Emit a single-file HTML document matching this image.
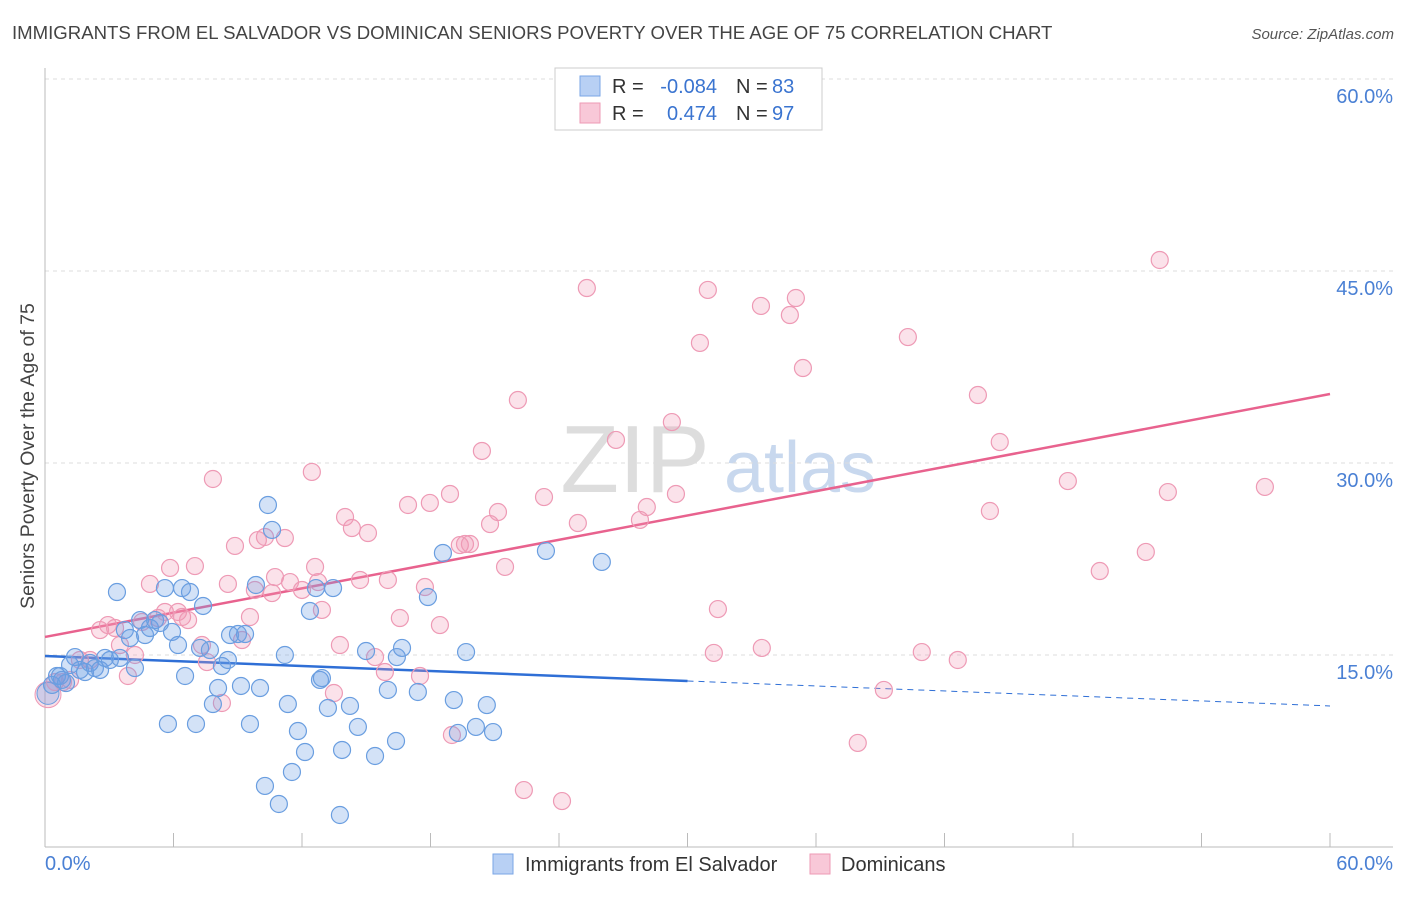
<!DOCTYPE html>
<html><head><meta charset="utf-8"><style>
body{margin:0;background:#fff;font-family:"Liberation Sans",sans-serif}
svg text{font-family:"Liberation Sans",sans-serif}
</style></head><body>
<svg id="chart" width="1406" height="892">
<text x="12" y="39" font-size="18.6" fill="#444">IMMIGRANTS FROM EL SALVADOR VS DOMINICAN SENIORS POVERTY OVER THE AGE OF 75 CORRELATION CHART</text>
<text x="1394" y="39" font-size="15" fill="#555" font-style="italic" text-anchor="end">Source: ZipAtlas.com</text>
<text transform="translate(34,456) rotate(-90)" font-size="19.5" fill="#444" text-anchor="middle">Seniors Poverty Over the Age of 75</text>
<g><text x="635" y="492" font-size="96" fill="#ddd" font-family="Liberation Serif" text-anchor="middle">ZIP</text><text x="800" y="492" font-size="72" fill="#c8d8ee" text-anchor="middle">atlas</text></g>
<g id="grid"></g><g id="trends"></g><g id="pts"></g>
<g>
<rect x="555" y="68" width="267" height="62" fill="#fff" stroke="#ccc"/>
<rect x="580" y="76" width="20" height="20" fill="#b8d0f4" stroke="#7aa6e6"/>
<rect x="580" y="103" width="20" height="20" fill="#f8c8d8" stroke="#ee9ab5"/>
<text x="612" y="93" font-size="20" fill="#333">R =</text>
<text x="717" y="93" font-size="20" fill="#3a74d0" text-anchor="end">-0.084</text>
<text x="736" y="93" font-size="20" fill="#333">N =</text>
<text x="772" y="93" font-size="20" fill="#3a74d0">83</text>
<text x="612" y="120" font-size="20" fill="#333">R =</text>
<text x="717" y="120" font-size="20" fill="#3a74d0" text-anchor="end">0.474</text>
<text x="736" y="120" font-size="20" fill="#333">N =</text>
<text x="772" y="120" font-size="20" fill="#3a74d0">97</text>
</g>
<g>
<rect x="493" y="854" width="20" height="20" fill="#b8d0f4" stroke="#7aa6e6"/>
<text x="525" y="871" font-size="20" fill="#333">Immigrants from El Salvador</text>
<rect x="810" y="854" width="20" height="20" fill="#f8c8d8" stroke="#ee9ab5"/>
<text x="841" y="871" font-size="20" fill="#333">Dominicans</text>
</g>
</svg>
<script>
const yTicks=[15,30,45,60];
const xTickLabels=["0.0%","60.0%"];
const blueX=[0.56,0.79,1.17,1.40,1.63,1.87,2.10,2.33,2.57,2.80,3.03,3.36,3.50,3.73,3.97,4.20,4.44,4.67,4.90,5.14,5.37,5.60,5.74,5.93,6.21,6.40,6.54,6.77,7.05,7.24,7.38,7.70,7.84,8.08,8.26,8.54,8.64,9.01,9.15,9.34,9.57,9.85,10.04,10.27,10.41,10.60,10.92,11.20,11.34,11.53,11.81,12.14,12.37,12.65,12.84,12.93,13.21,13.45,13.77,13.87,14.24,14.61,14.99,15.41,16.01,16.39,16.43,16.67,17.41,17.88,18.58,19.09,19.28,19.66,20.12,20.63,20.92,23.39,26.00,0.33,0.70,0.98];
const blueY=[13.36,13.05,14.22,14.84,13.83,13.67,14.38,13.98,13.83,14.77,14.61,19.92,14.77,16.95,16.33,13.98,17.73,16.56,17.11,17.73,17.50,20.23,9.61,16.80,15.78,20.23,13.36,19.92,9.61,15.55,18.83,15.39,11.17,12.42,14.14,14.61,16.56,16.64,12.58,16.64,9.61,20.47,12.42,4.77,26.72,24.77,3.36,15.00,11.17,5.86,9.06,7.42,18.44,20.23,13.05,13.20,10.86,20.23,2.50,7.58,11.02,9.38,15.31,7.11,12.27,8.28,14.84,15.55,12.11,19.53,22.97,11.48,8.91,15.23,9.38,11.09,8.98,23.13,22.27,12.66,13.36,12.81];
const pinkX=[0.47,0.84,1.17,1.63,2.10,2.57,2.94,3.27,3.50,3.87,4.20,4.53,4.90,5.28,5.60,5.84,6.21,6.40,6.68,7.00,7.33,7.56,7.84,8.26,8.54,8.87,9.20,9.57,9.80,9.94,10.27,10.60,10.74,11.20,11.44,12.00,12.46,12.61,12.75,12.93,13.49,13.77,14.01,14.33,14.71,15.08,15.41,15.87,16.01,16.57,16.95,17.51,17.74,17.97,18.44,18.91,19.00,19.37,19.61,19.84,20.40,20.78,21.15,21.48,22.08,22.36,23.30,24.14,24.88,25.30,26.66,27.78,28.10,29.27,29.46,30.58,30.95,31.23,31.42,33.43,33.47,34.78,35.06,35.39,37.95,39.17,40.29,40.94,42.62,43.56,44.12,44.58,47.76,49.25,51.40,52.05,52.43,56.96,32.21];
const pinkY=[12.89,12.89,13.05,14.61,14.61,16.95,17.34,17.11,15.78,13.36,15.00,17.58,20.55,17.89,18.36,21.80,18.36,17.97,17.73,21.95,15.78,14.45,28.75,11.25,20.55,23.52,16.17,17.97,20.08,23.98,24.22,19.84,21.09,24.14,20.70,20.08,29.30,21.88,20.70,18.52,12.03,15.78,25.78,24.92,20.86,24.53,14.84,13.67,20.86,17.89,26.72,13.36,20.31,26.88,17.34,27.58,8.75,23.59,23.67,23.67,30.94,25.23,26.17,21.88,34.92,4.45,27.34,3.59,25.31,43.67,31.80,25.55,26.56,33.20,27.58,39.38,43.52,15.16,18.59,42.27,15.55,41.56,42.89,37.42,8.13,12.27,39.84,15.23,14.61,35.31,26.25,31.64,28.59,21.56,23.05,45.86,27.73,28.13,57.73];
const blueTrend=[14.92,11.02];
const pinkTrend=[16.41,35.39];
const NS="http://www.w3.org/2000/svg";
const X=v=>45+v/60*1285, Y=v=>847-v/15*192;
function mk(t,a,p){const e=document.createElementNS(NS,t);for(const k in a)e.setAttribute(k,a[k]);p.appendChild(e);return e;}
const g=document.getElementById('grid');
yTicks.forEach(t=>{
 const l=mk('line',{x1:45,x2:1393,y1:Y(t),y2:Y(t),stroke:'#ddd','stroke-dasharray':'4,4'},g);
 
 
 const tx=mk('text',{x:1393,y:Y(t)+24,'font-size':20,fill:'#4a80d4','text-anchor':'end'},g);
 tx.textContent=t.toFixed(1)+'%';
 
 
});
const ax=mk('line',{x1:45,x2:45,y1:68,y2:847,stroke:'#bbb'},g);


const bx=mk('line',{x1:45,x2:1393,y1:847,y2:847,stroke:'#bbb'},g);


for(let i=0;i<=10;i++){const tk=mk('line',{x1:X(i*6),x2:X(i*6),y1:833,y2:847,stroke:'#bbb'},g);
 
 }
[[45,'start'],[1393,'end']].forEach((p,i)=>{const t=mk('text',{x:p[0],y:870,'font-size':20,fill:'#4a80d4','text-anchor':p[1]},g);t.textContent=xTickLabels[i];
 
 });
const tr=document.getElementById('trends');
const bm=blueTrend[0]+(blueTrend[1]-blueTrend[0])*(30/60);
const b1=mk('line',{x1:X(0),y1:Y(blueTrend[0]),x2:X(30),y2:Y(bm),stroke:'#2f6fd6','stroke-width':2.5},tr);


const b2=mk('line',{x1:X(30),y1:Y(bm),x2:X(60),y2:Y(blueTrend[1]),stroke:'#2f6fd6','stroke-width':1,'stroke-dasharray':'6,5'},tr);


const p1=mk('line',{x1:X(0),y1:Y(pinkTrend[0]),x2:X(60),y2:Y(pinkTrend[1]),stroke:'#e8628e','stroke-width':2.5},tr);


const pg=document.getElementById('pts');
const big1=mk('circle',{cx:X(0.14),cy:Y(11.9),r:13,fill:'rgba(240,150,180,0.3)',stroke:'#ee9ab5'},pg);


const big2=mk('circle',{cx:X(0.14),cy:Y(12.0),r:11,fill:'rgba(110,160,230,0.3)',stroke:'#6a9ee0'},pg);


pinkX.forEach((x,i)=>{const c=mk('circle',{cx:X(x),cy:Y(pinkY[i]),r:8.5,fill:'rgba(240,150,180,0.28)',stroke:'#ee9ab5','stroke-width':1.2},pg);
 
 });
blueX.forEach((x,i)=>{const c=mk('circle',{cx:X(x),cy:Y(blueY[i]),r:8.5,fill:'rgba(110,160,230,0.3)',stroke:'#6a9ee0','stroke-width':1.2},pg);
 
 });
</script>
</body></html>
